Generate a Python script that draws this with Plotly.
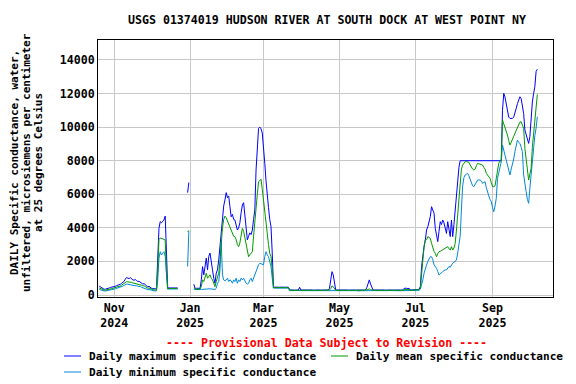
import plotly.graph_objects as go
import pandas as pd

start_date = "2024-10-20"

# ---- Daily maximum (Oct 20 2024 .. Oct 7 2025), None = no data ----
max_fall = [530, 480, 400, 360, 340, 350, 360, 380, 420, 450, 460, 470,
            500, 520, 560, 580, 600, 640, 700, 760, 820, 950,
            1050, 1000, 980, 1030, 950, 900, 880, 920, 860, 800,
            820, 780, 700, 650, 680, 620, 550, 480, 520, 450,
            400, 380, 360, 350, 360,
            2200, 3970, 4370, 4300, 4400, 4470, 4700, 1900, 420,
            420, 420, 410, 420, 420, 410, 420, 420]
max_gap1 = [None, None, None, None, None, None, None, 6100, 6700, None, None, None]
max_winter = [640, 400, 400, 400, 400, 400,
              900, 1690, 1200, 1900, 2200, 1500, 2300, 2500, 1800, 1500,
              1000, 700, 1300, 1500, 2080, 2900, 3800, 4600, 5300, 5660,
              6100, 5800, 5900, 5260, 4660, 4800, 4500, 4470, 4200, 3870,
              4000, 4300, 4900, 5360, 5500, 4600, 3870, 3280, 3500, 3700,
              3600, 3870, 4500, 5060, 7450, 8800, 9930, 10000, 9900, 9650,
              8900, 7850, 6800, 5800, 5200, 4500, 4070, 2500]
max_spring = [460, 470, 460, 450, 460, 460, 470, 460, 450, 460, 460, 470, 460,
              300, 310, 300, 300, 290, 300, 310, 300,
              460,
              300, 300, 310, 300, 290, 300, 300, 310, 300, 300, 290, 300,
              300, 310, 300, 300, 290, 300, 300, 310, 300, 300, 300,
              400, 900, 1390, 1200, 600,
              300, 300, 310, 300, 290, 300, 300, 310, 300, 300, 290, 300, 300,
              310, 300, 300, 290, 300, 300, 310, 300, 300, 290, 300, 300,
              450, 700, 900, 650, 400,
              300, 300, 310, 300, 290, 300, 300, 310, 300, 300, 290, 300, 300,
              310, 300, 300, 290, 300, 300, 310, 300, 300, 290, 300, 300,
              400, 420, 400, 380, 400,
              300, 300, 310, 300, 300, 300]
max_summer = [320, 350, 500, 1690, 2480, 2900,
              3280, 3870, 4070, 4300, 4670, 5260, 5000, 4870, 3970, 3570,
              3180, 3800, 4370, 4200, 4470, 4300, 3900, 3670, 4370, 3900,
              3480, 4470, 3480, 4200, 5060, 6260, 6850, 7600,
              8000, 8000, 8000, 8000, 8000, 8000, 8000, 8000, 8000, 8000,
              8000, 8000, 8000, 8000, 8000, 8000, 8000, 8000, 8000, 8000,
              8000, 8000, 8000, 8000, 8000, 8000, 8000, 8000, 8000, 8000,
              8000, 8000, 8000, 8000,
              11000, 12010, 11800, 11320, 10900, 10600, 10520, 10500, 10520, 10600,
              10800, 11110, 11400, 11600, 11810, 11700, 11200, 10820, 9830, 9500,
              9200, 9030, 9430, 10820, 11500, 12010, 12410, 13310, 13450]

# ---- Daily mean ----
mean_fall = [420, 380, 320, 300, 290, 290, 300, 310, 340, 370, 380, 400,
             420, 440, 470, 490, 510, 540, 590, 640, 690, 760,
             800, 780, 770, 790, 750, 720, 700, 720, 690, 650,
             660, 630, 580, 540, 550, 500, 450, 400, 420, 370,
             340, 320, 300, 300, 300,
             1500, 3300, 3400, 3380, 3350, 3300, 3280, 1300, 380,
             390, 390, 380, 390, 390, 380, 390, 390]
mean_gap1 = [None, None, None, None, None, None, None, 3750, 3850, None, None, None]
mean_winter = [420, 360, 350, 350, 350, 350,
               500, 900, 800, 1000, 1290, 1000, 1100, 1200, 1000, 900,
               700, 500, 800, 1000, 1300, 2000, 3300, 4000, 4500, 4700,
               4600, 4400, 4300, 4070, 3900, 3700, 3500, 3480, 3300, 3000,
               2880, 3100, 3500, 3970, 3800, 3400, 3080, 2600, 2280, 2400,
               2500, 2580, 3500, 4470, 5000, 6000, 6750, 6850, 6890, 6300,
               5560, 4800, 4070, 3500, 3000, 2480, 2300, 1500]
mean_spring = [440, 440, 445, 440, 435, 440, 440, 445, 440, 435, 440, 440, 440,
               280, 285, 280, 280, 275, 280, 285, 280,
               300,
               280, 280, 285, 280, 275, 280, 280, 285, 280, 280, 275, 280,
               280, 285, 280, 280, 275, 280, 280, 285, 280, 280, 280,
               300, 380, 540, 500, 350,
               280, 280, 285, 280, 275, 280, 280, 285, 280, 280, 275, 280, 280,
               285, 280, 280, 275, 280, 280, 285, 280, 280, 275, 280, 280,
               300, 330, 360, 320, 290,
               280, 280, 285, 280, 275, 280, 280, 285, 280, 280, 275, 280, 280,
               285, 280, 280, 275, 280, 280, 285, 280, 280, 275, 280, 280,
               320, 330, 320, 310, 320,
               280, 280, 285, 280, 280, 280]
mean_summer = [300, 320, 400, 1290, 2080, 2880,
               3280, 3300, 3480, 3400, 3380, 3080, 2780, 2600, 2480, 2280,
               2480, 2580, 2600, 2650, 2680, 2750, 2780, 2800, 2880, 2750,
               2680, 2880, 2680, 2800, 3080, 3870, 4870, 5860,
               6850, 7500, 7740, 7880, 7940, 7950, 7920, 7900, 7750, 7600,
               7500, 7450, 7500, 7700, 7840, 7820, 7800, 7780, 7740, 7600,
               7500, 7250, 7150, 7050, 6950, 6700, 6450, 6450, 6500, 6950,
               7550, 7850, 7980, 8000,
               10420, 10200, 10030, 9800, 9530, 9200, 8930, 9100, 9330, 9450,
               9630, 9800, 10000, 10220, 10300, 10320, 10100, 9930, 8740, 8000,
               7550, 6850, 7200, 7550, 8800, 9600, 10320, 11200, 11950]

# ---- Daily minimum ----
min_fall = [330, 300, 260, 250, 240, 240, 250, 260, 280, 300, 310, 330,
            350, 370, 390, 410, 430, 450, 490, 530, 570, 620,
            650, 640, 630, 640, 600, 580, 560, 570, 550, 520,
            520, 500, 460, 430, 440, 400, 360, 320, 330, 300,
            270, 260, 250, 240, 250,
            900, 2200, 2580, 2380, 2500, 2580, 2300, 1000, 340,
            360, 360, 350, 360, 360, 350, 360, 360]
min_gap1 = [None, None, None, None, None, None, None, 1700, 3800, None, None, None]
min_winter = [340, 330, 320, 320, 320, 320,
              330, 340, 340, 350, 360, 350, 360, 370, 360, 350,
              340, 330, 400, 700, 800, 1500, 3180, 1200, 900, 850,
              900, 1000, 800, 900, 850, 700, 900, 800, 1000, 700,
              900, 800, 1000, 900, 1000, 800, 700, 650, 700, 900,
              1000, 800, 1000, 1200, 1490, 1600, 1800, 1890, 1850, 1800,
              1800, 2300, 2580, 2400, 2280, 2000, 1690, 1000]
min_spring = [410, 410, 415, 410, 405, 410, 410, 415, 410, 405, 410, 410, 410,
              260, 265, 260, 260, 255, 260, 265, 260,
              270,
              260, 260, 265, 260, 255, 260, 260, 265, 260, 260, 255, 260,
              260, 265, 260, 260, 255, 260, 260, 265, 260, 260, 260,
              270, 280, 300, 290, 270,
              260, 260, 265, 260, 255, 260, 260, 265, 260, 260, 255, 260, 260,
              265, 260, 260, 255, 260, 240, 260, 260, 260, 255, 260, 260,
              260, 270, 280, 270, 260,
              260, 260, 265, 260, 255, 260, 260, 265, 260, 260, 255, 260, 260,
              265, 260, 260, 255, 260, 260, 265, 260, 260, 255, 260, 260,
              280, 280, 285, 280, 280,
              260, 260, 265, 260, 260, 260]
min_summer = [260, 280, 350, 600, 900, 1300,
              1600, 1790, 2000, 2200, 2280, 2280, 2100, 1800, 1700, 1590,
              1400, 1190, 1250, 1350, 1400, 1450, 1500, 1490, 1600, 1700,
              1650, 1800, 1900, 1950, 2000, 2080, 2500, 2900,
              3500, 5060, 6500, 7000, 7150, 7200, 7250, 7100, 6900, 6750,
              6500, 6450, 6600, 6700, 6850, 6850, 6850, 6800, 6650, 6700,
              6750, 6400, 6060, 5900, 5700, 5560, 5200, 4960, 5300, 5760,
              6950, 7300, 7550, 7940,
              8930, 8600, 8340, 8000, 7740, 7400, 7150, 7500, 7740, 8100,
              8540, 8900, 9230, 9100, 9030, 8800, 8540, 7150, 6500, 6160,
              5700, 5460, 6360, 7200, 8000, 8900, 9500, 9930, 10620]

max_vals = max_fall + max_gap1 + max_winter + max_spring + max_summer
mean_vals = mean_fall + mean_gap1 + mean_winter + mean_spring + mean_summer
min_vals = min_fall + min_gap1 + min_winter + min_spring + min_summer
dates = pd.date_range(start_date, periods=len(max_vals), freq="D")

tick_dates = ["2024-11-01", "2025-01-01", "2025-03-01", "2025-05-01", "2025-07-01", "2025-09-01"]
tick_text = ["Nov<br>2024", "Jan<br>2025", "Mar<br>2025", "May<br>2025", "Jul<br>2025", "Sep<br>2025"]
y_ticks = [0, 2000, 4000, 6000, 8000, 10000, 12000, 14000]

series_names = ["Daily maximum specific conductance",
                "Daily mean specific conductance",
                "Daily minimum specific conductance"]
y_title_lines = ["DAILY Specific conductance, water,",
                 "unfiltered, microsiemens per centimeter",
                 "at 25 degrees Celsius"]
c_max, c_mean, c_min = "#0000ff", "#009900", "#0088dd"

FONT = "DejaVu Sans Mono"
fig = go.Figure()
fig.add_trace(go.Scatter(x=dates, y=max_vals, mode="lines", name=series_names[0],
                         line=dict(color=c_max, width=1), connectgaps=False, showlegend=False))
fig.add_trace(go.Scatter(x=dates, y=min_vals, mode="lines", name=series_names[2],
                         line=dict(color=c_min, width=1), connectgaps=False, showlegend=False))
fig.add_trace(go.Scatter(x=dates, y=mean_vals, mode="lines", name=series_names[1],
                         line=dict(color=c_mean, width=1), connectgaps=False, showlegend=False))

# the page body adds an 8px offset; size the figure so window pixels line up
OFF = 8
W, H = 576 - OFF, 384 - OFF
L, R, T, B = 98 - OFF, 23, 40 - OFF, 87
pw, ph = W - L - R, H - T - B

def px(x):
    return (x - OFF - L) / pw

def py(y):
    return (H - B - (y - OFF)) / ph

fnt = dict(family=FONT, size=11.6, color="black", weight="bold")
fnt_y = dict(family=FONT, size=11, color="black", weight="bold")
fnt_leg = dict(family=FONT, size=11.1, color="black", weight="bold")

fig.update_layout(
    width=W, height=H,
    margin=dict(l=L, r=R, t=T, b=B),
    paper_bgcolor="white", plot_bgcolor="white",
    font=fnt,
    showlegend=False,
    xaxis=dict(range=["2024-10-19", "2025-10-19 14:00"], tickvals=tick_dates, ticktext=tick_text,
               showgrid=True, gridcolor="#c8c8c8", gridwidth=1, showline=True, linecolor="black",
               linewidth=1, mirror=True, ticks="", zeroline=False, tickfont=fnt),
    yaxis=dict(range=[-119, 15191], tickvals=y_ticks, ticktext=[str(v) for v in y_ticks],
               showgrid=True, gridcolor="#c8c8c8", gridwidth=1, showline=True, linecolor="black",
               linewidth=1, mirror=True, ticks="", zeroline=False, tickfont=fnt),
)

annotations = [
    dict(text="USGS 01374019 HUDSON RIVER AT SOUTH DOCK AT WEST POINT NY", x=px(327), y=py(20),
         xref="paper", yref="paper", showarrow=False, xanchor="center", yanchor="middle", font=fnt),
    dict(text="---- Provisional Data Subject to Revision ----", x=px(326), y=py(343),
         xref="paper", yref="paper", showarrow=False, xanchor="center", yanchor="middle",
         font=dict(family=FONT, size=11.6, color="red", weight="bold")),
]
for line_text, lx in zip(y_title_lines, [14, 26, 38]):
    annotations.append(dict(text=line_text, x=px(lx), y=py(163), xref="paper", yref="paper",
                            showarrow=False, textangle=-90, xanchor="center", yanchor="middle",
                            font=fnt_y))
legend_items = [(series_names[0], c_max, 64, 356), (series_names[1], c_mean, 331, 356),
                (series_names[2], c_min, 64, 372)]
shapes = []
for name, col, lx, ly in legend_items:
    shapes.append(dict(type="line", xref="paper", yref="paper", x0=px(lx), x1=px(lx + 17),
                       y0=py(ly), y1=py(ly), line=dict(color=col, width=1)))
    annotations.append(dict(text=name, x=px(lx + 23), y=py(ly), xref="paper", yref="paper",
                            showarrow=False, xanchor="left", yanchor="middle", font=fnt_leg))
fig.update_layout(annotations=annotations, shapes=shapes)

fig.write_html("out.html")
